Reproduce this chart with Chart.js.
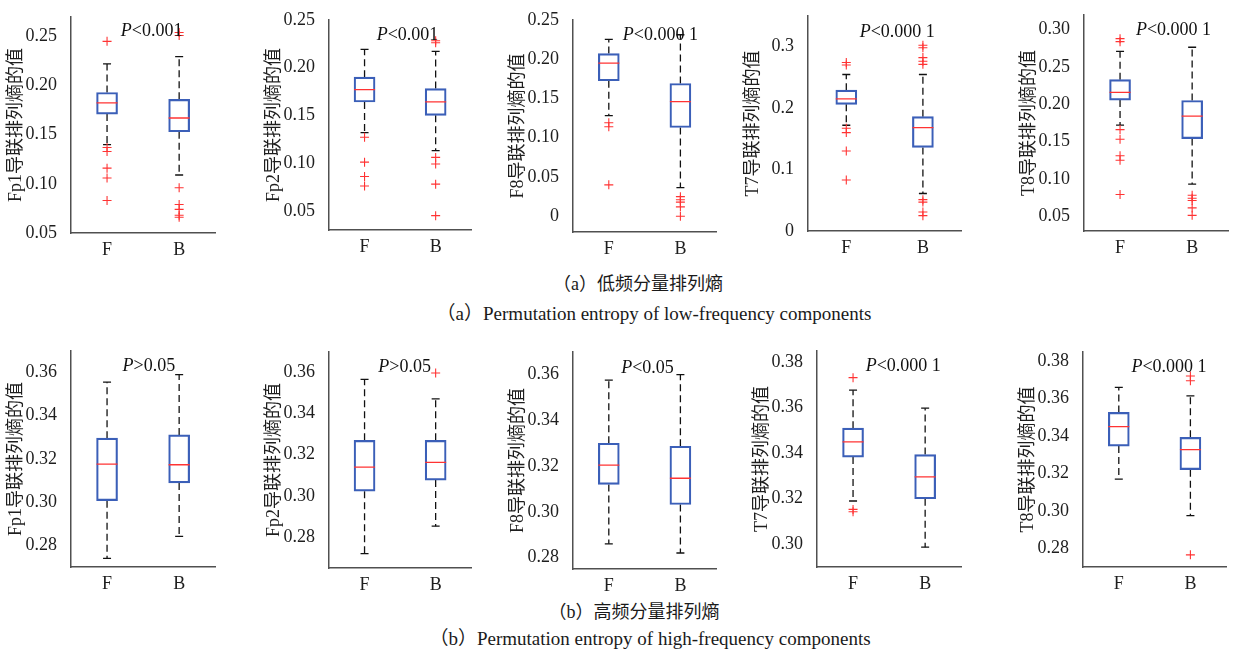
<!DOCTYPE html>
<html>
<head>
<meta charset="utf-8">
<script src="https://cdn.jsdelivr.net/npm/chart.js@4.4.1/dist/chart.umd.min.js"></script>
<style>
  body { margin: 0; background: #fff; width: 1240px; height: 651px; position: relative; overflow: hidden;
         font-family: 'Liberation Serif', 'Noto Sans CJK SC', serif; color: #1a1a1a; }
  canvas { position: absolute; }
  .cap { position: absolute; font-size: 18px; white-space: nowrap; transform: translate(-50%, -50%); }
  .en { font-size: 19px; }
</style>
</head>
<body>
<div class="cap" style="left:638px;top:282px">（a）低频分量排列熵</div>
<div class="cap en" style="left:654px;top:311px">（a）Permutation entropy of low-frequency components</div>
<div class="cap" style="left:634px;top:610px">（b）高频分量排列熵</div>
<div class="cap en" style="left:650px;top:636px">（b）Permutation entropy of high-frequency components</div>
<script>
const channels = ['Fp1', 'Fp2', 'F8', 'T7', 'T8'];
const groups = ['F', 'B'];

// low-frequency components, group F
const lowFLower  = [0.140, 0.132, 0.128, 0.172, 0.172];
const lowFQ1     = [0.171, 0.164, 0.1725, 0.206, 0.2056];
const lowFMedian = [0.1825, 0.177, 0.195, 0.215, 0.216];
const lowFQ3     = [0.193, 0.190, 0.207, 0.229, 0.233];
const lowFUpper  = [0.222, 0.219, 0.225, 0.2545, 0.271];
const lowFOutliers = [
    [0.245, 0.137, 0.133, 0.116, 0.106, 0.083],
    [0.127, 0.101, 0.086, 0.076],
    [0.119, 0.114, 0.040],
    [0.274, 0.270, 0.167, 0.160, 0.130, 0.083],
    [0.288, 0.284, 0.166, 0.153, 0.131, 0.125, 0.079]
];
// low-frequency components, group B
const lowBLower  = [0.109, 0.113, 0.0365, 0.061, 0.093];
const lowBQ1     = [0.153, 0.150, 0.113, 0.136, 0.154];
const lowBMedian = [0.167, 0.164, 0.146, 0.168, 0.184];
const lowBQ3     = [0.186, 0.178, 0.169, 0.186, 0.205];
const lowBUpper  = [0.2295, 0.217, 0.231, 0.2545, 0.2765];
const lowBOutliers = [
    [0.254, 0.251, 0.096, 0.079, 0.074, 0.068, 0.066],
    [0.228, 0.226, 0.106, 0.099, 0.078, 0.045],
    [0.025, 0.021, 0.018, 0.012, 0.0],
    [0.302, 0.298, 0.282, 0.276, 0.271, 0.051, 0.047, 0.031, 0.025],
    [0.078, 0.074, 0.071, 0.061, 0.051]
];

// high-frequency components, group F
const highFLower  = [0.274, 0.272, 0.286, 0.319, 0.317];
const highFQ1     = [0.3007, 0.3023, 0.312, 0.3383, 0.3346];
const highFMedian = [0.3176, 0.314, 0.3204, 0.345, 0.345];
const highFQ3     = [0.3296, 0.327, 0.330, 0.351, 0.3526];
const highFUpper  = [0.3555, 0.3566, 0.3576, 0.3677, 0.366];
const highFOutliers = [[], [], [], [0.3732, 0.3153, 0.3143], []];
// high-frequency components, group B
const highBLower  = [0.2842, 0.2853, 0.282, 0.2987, 0.2975];
const highBQ1     = [0.3089, 0.3077, 0.3032, 0.320, 0.322];
const highBMedian = [0.3173, 0.3163, 0.3147, 0.3296, 0.3327];
const highBQ3     = [0.3311, 0.327, 0.3287, 0.3394, 0.3393];
const highBUpper  = [0.359, 0.3471, 0.360, 0.3598, 0.3615];
const highBOutliers = [[], [0.3597], [], [], [0.3721, 0.3695, 0.2765]];

// axis ranges and tick labels
const lowYMin = [0.05, 0.03, -0.02, 0, 0.03];
const lowYMax = [0.27, 0.25, 0.25, 0.35, 0.32];
const lowTicks = [
    ['0.05', '0.10', '0.15', '0.20', '0.25'],
    ['0.05', '0.10', '0.15', '0.20', '0.25'],
    ['0', '0.05', '0.10', '0.15', '0.20', '0.25'],
    ['0', '0.1', '0.2', '0.3'],
    ['0.05', '0.10', '0.15', '0.20', '0.25', '0.30']
];
const highYMin = [0.27, 0.265, 0.275, 0.29, 0.27];
const highYMax = [0.37, 0.37, 0.37, 0.385, 0.385];
const highTicks = [
    ['0.28', '0.30', '0.32', '0.34', '0.36'],
    ['0.28', '0.30', '0.32', '0.34', '0.36'],
    ['0.28', '0.30', '0.32', '0.34', '0.36'],
    ['0.30', '0.32', '0.34', '0.36', '0.38'],
    ['0.28', '0.30', '0.32', '0.34', '0.36', '0.38']
];

// significance labels (anchor in data coordinates)
const lowP = ['P<0.001', 'P<0.001', 'P<0.000 1', 'P<0.000 1', 'P<0.000 1'];
const lowPX = [1.19, 1.17, 1.195, 1.175, 1.22];
const lowPY = [0.255, 0.234, 0.230, 0.324, 0.2986];
const highP = ['P>0.05', 'P>0.05', 'P<0.05', 'P<0.000 1', 'P<0.000 1'];
const highPX = [1.216, 1.194, 1.173, 1.175, 1.176];
const highPY = [0.3627, 0.3627, 0.3629, 0.3784, 0.3766];

// plot area boxes on the page
const areaLeft   = [[71, 329, 573, 808, 1084], [71, 329, 573, 817, 1083]];
const areaRight  = [[217, 473, 718, 963, 1230], [217, 473, 718, 963, 1228]];
const areaTop    = [[12, 15, 15, 11, 10], [346, 347, 347, 346, 347]];
const areaBottom = [[233, 230, 232, 231, 231], [567, 568, 569, 567, 567]];

const FONT = "'Liberation Serif', 'Times New Roman', 'Noto Sans CJK SC', serif";
const TEXT = '#1e1e1e';
const AXIS = '#505050';
const BLUE = '#3b5fb8';
const RED = '#ff3333';

Chart.defaults.font.family = FONT;
Chart.defaults.color = TEXT;

const pTextPlugin = {
    id: 'pText',
    afterDatasetsDraw(chart, args, opts) {
        const ctx = chart.ctx;
        const x = chart.scales.x.getPixelForValue(opts.x);
        const y = chart.scales.y.getPixelForValue(opts.y);
        ctx.save();
        ctx.fillStyle = '#111';
        ctx.textBaseline = 'middle';
        ctx.textAlign = 'left';
        ctx.font = 'italic 18px ' + FONT;
        ctx.fillText(opts.text[0], x, y);
        const w = ctx.measureText(opts.text[0]).width;
        ctx.font = '18px ' + FONT;
        ctx.fillText(opts.text.slice(1), x + w, y);
        ctx.restore();
    }
};

const rows = [
    { f: [lowFLower, lowFQ1, lowFMedian, lowFQ3, lowFUpper], fOut: lowFOutliers,
      b: [lowBLower, lowBQ1, lowBMedian, lowBQ3, lowBUpper], bOut: lowBOutliers,
      yMin: lowYMin, yMax: lowYMax, ticks: lowTicks, p: lowP, px: lowPX, py: lowPY },
    { f: [highFLower, highFQ1, highFMedian, highFQ3, highFUpper], fOut: highFOutliers,
      b: [highBLower, highBQ1, highBMedian, highBQ3, highBUpper], bOut: highBOutliers,
      yMin: highYMin, yMax: highYMax, ticks: highTicks, p: highP, px: highPX, py: highPY }
];

const PAD_L = 71, PAD_T = 12, PAD_R = 10, PAD_B = 30;

rows.forEach((row, r) => {
    channels.forEach((ch, i) => {
        const L = areaLeft[r][i], R = areaRight[r][i], T = areaTop[r][i], B = areaBottom[r][i];
        const cv = document.createElement('canvas');
        cv.width = PAD_L + (R - L) + PAD_R;
        cv.height = PAD_T + (B - T) + PAD_B;
        cv.style.left = (L - PAD_L) + 'px';
        cv.style.top = (T - PAD_T) + 'px';
        document.body.appendChild(cv);

        const [fLo, fQ1, fMed, fQ3, fUp] = row.f.map(a => a[i]);
        const [bLo, bQ1, bMed, bQ3, bUp] = row.b.map(a => a[i]);
        const tickLabels = row.ticks[i];

        new Chart(cv, {
            type: 'bar',
            data: {
                datasets: [
                    {
                        type: 'line',
                        order: 4,
                        data: [
                            { x: 1, y: fQ3 }, { x: 1, y: fUp }, { x: 1, y: null },
                            { x: 1, y: fQ1 }, { x: 1, y: fLo }, { x: 1, y: null },
                            { x: 2, y: bQ3 }, { x: 2, y: bUp }, { x: 2, y: null },
                            { x: 2, y: bQ1 }, { x: 2, y: bLo }
                        ],
                        borderColor: '#111',
                        borderWidth: 1.3,
                        borderDash: [7, 4],
                        pointRadius: 0,
                        spanGaps: false
                    },
                    {
                        type: 'scatter',
                        order: 3,
                        data: [{ x: 1, y: fUp }, { x: 1, y: fLo }, { x: 2, y: bUp }, { x: 2, y: bLo }],
                        pointStyle: 'line',
                        pointRadius: 4,
                        borderColor: '#111',
                        borderWidth: 1.3
                    },
                    {
                        type: 'bar',
                        order: 2,
                        data: [{ x: 1, y: [fQ1, fQ3] }, { x: 2, y: [bQ1, bQ3] }],
                        barThickness: 21,
                        backgroundColor: 'rgba(255,255,255,0)',
                        borderColor: BLUE,
                        borderWidth: 1.5,
                        borderSkipped: false
                    },
                    {
                        type: 'scatter',
                        order: 1,
                        data: [{ x: 1, y: fMed }, { x: 2, y: bMed }],
                        pointStyle: 'line',
                        pointRadius: 10.5,
                        borderColor: RED,
                        borderWidth: 1.3
                    },
                    {
                        type: 'scatter',
                        order: 0,
                        data: row.fOut[i].map(v => ({ x: 1, y: v }))
                            .concat(row.bOut[i].map(v => ({ x: 2, y: v }))),
                        pointStyle: 'cross',
                        pointRadius: 4.5,
                        borderColor: RED,
                        borderWidth: 1.1
                    }
                ]
            },
            options: {
                responsive: false,
                animation: false,
                events: [],
                layout: { padding: { left: 0, top: PAD_T, right: PAD_R, bottom: 0 } },
                plugins: {
                    legend: { display: false },
                    tooltip: { enabled: false },
                    pText: { text: row.p[i], x: row.px[i], y: row.py[i] }
                },
                scales: {
                    x: {
                        type: 'linear',
                        offset: false,
                        min: 0.5,
                        max: 2.5,
                        grid: { display: false },
                        border: { display: true, color: AXIS, width: 1.5 },
                        afterBuildTicks: s => { s.ticks = [{ value: 1 }, { value: 2 }]; },
                        afterFit: s => { s.height = PAD_B; },
                        ticks: {
                            autoSkip: false,
                            maxRotation: 0,
                            padding: -2,
                            font: { size: 18 },
                            callback: (v, idx) => groups[idx]
                        }
                    },
                    y: {
                        min: row.yMin[i],
                        max: row.yMax[i],
                        grid: { display: false },
                        border: { display: true, color: AXIS, width: 1.5 },
                        afterBuildTicks: s => { s.ticks = tickLabels.map(t => ({ value: parseFloat(t) })); },
                        afterFit: s => { s.width = PAD_L; },
                        ticks: {
                            autoSkip: false,
                            padding: 6,
                            font: { size: 18 },
                            callback: (v, idx) => tickLabels[idx]
                        },
                        title: {
                            display: true,
                            text: ch + '导联排列熵的值',
                            font: { size: 18 },
                            padding: { top: 5, bottom: 0 }
                        }
                    }
                }
            },
            plugins: [pTextPlugin]
        });
    });
});
</script>
</body>
</html>
